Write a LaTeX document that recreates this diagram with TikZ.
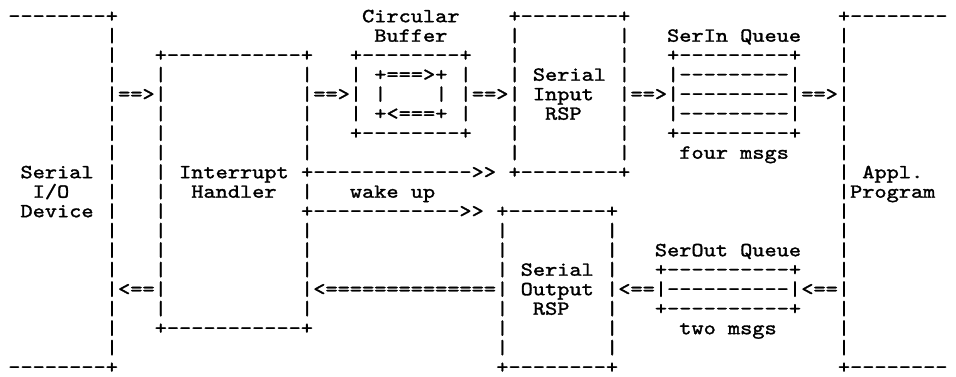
\documentclass[tikz,border=0pt]{standalone}
\usepackage{fontspec}
\setmonofont{Latin Modern Mono}[FakeStretch=1.16, FakeBold=1.5]

\begin{document}
\begin{tikzpicture}[x=6.1pt, y=-9.75pt,
    every node/.style={font=\ttfamily\fontsize{10}{9.75}\selectfont, inner sep=0pt, outer sep=0pt, anchor=base west}]
    \fill[white] (-0.18,-0.82) rectangle (78.18,18.51);
    \useasboundingbox (-0.18,-0.82) rectangle (78.18,18.51);
    \begin{scope}[shift={(-0.5,0.32)}]
        % Serial I/O device
        \node (devtop) at (1,0) {--------+};
        \foreach \r in {1,...,17} \node (devbar\r) at (9,\r) {|};
        \node (devbot) at (1,18) {--------+};
        \node (devA) at (2,8) {Serial};
        \node (devB) at (3,9) {I/O};
        \node (devC) at (2,10) {Device};

        % Interrupt handler
        \node (irqtop) at (13,2) {+-----------+};
        \foreach \r in {3,...,15} \node (irql\r) at (13,\r) {|};
        \foreach \r in {3,4,5,6,7,9,11,12,13,14,15} \node (irqr\r) at (25,\r) {|};
        \node (irqbot) at (13,16) {+-----------+};
        \node (irqA) at (15,8) {Interrupt};
        \node (irqB) at (16,9) {Handler};

        % Circular buffer
        \node (cbufA) at (30,0) {Circular};
        \node (cbufB) at (31,1) {Buffer};
        \node (cbuftop) at (29,2) {+--------+};
        \foreach \r in {3,4,5} {
            \node (cbufl\r) at (29,\r) {|};
            \node (cbufr\r) at (38,\r) {|};
        }
        \node (ringtop) at (31,3) {+===>+};
        \node (ringl) at (31,4) {|};
        \node (ringr) at (36,4) {|};
        \node (ringbot) at (31,5) {+<===+};
        \node (cbufbot) at (29,6) {+--------+};

        % Serial input RSP
        \node (sintop) at (42,0) {+--------+};
        \foreach \r in {1,...,7} {
            \node (sinl\r) at (42,\r) {|};
            \node (sinr\r) at (51,\r) {|};
        }
        \node (sinbot) at (42,8) {+--------+};
        \node (sinA) at (44,3) {Serial};
        \node (sinB) at (44,4) {Input};
        \node (sinC) at (45,5) {RSP};

        % SerIn queue
        \node (sqA) at (55,1) {SerIn Queue};
        \node (sqtop) at (55,2) {+---------+};
        \foreach \r in {3,4,5} \node (sqrow\r) at (55,\r) {|---------|};
        \node (sqbot) at (55,6) {+---------+};
        \node (sqnote) at (56,7) {four msgs};

        % Wake up signals
        \node (wakeA) at (25,8) {+------------->>};
        \node (wake) at (29,9) {wake up};
        \node (wakeB) at (25,10) {+------------>>};

        % Serial output RSP
        \node (souttop) at (41,10) {+--------+};
        \foreach \r in {11,...,17} {
            \node (soutl\r) at (41,\r) {|};
            \node (soutr\r) at (50,\r) {|};
        }
        \node (soutbot) at (41,18) {+--------+};
        \node (soutA) at (43,13) {Serial};
        \node (soutB) at (43,14) {Output};
        \node (soutC) at (44,15) {RSP};

        % SerOut queue
        \node (soqA) at (54,12) {SerOut Queue};
        \node (soqtop) at (54,13) {+----------+};
        \node (soqrow) at (54,14) {|----------|};
        \node (soqbot) at (54,15) {+----------+};
        \node (soqnote) at (56,16) {two msgs};

        % Application program
        \node (appltop) at (69,0) {+--------};
        \foreach \r in {1,...,17} \node (applbar\r) at (69,\r) {|};
        \node (applbot) at (69,18) {+--------};
        \node (applA) at (71,8) {Appl.};
        \node (applB) at (70,9) {Program};

        % Arrows
        \node (inA) at (10,4) {==>};
        \node (inB) at (26,4) {==>};
        \node (inC) at (39,4) {==>};
        \node (inD) at (52,4) {==>};
        \node (inE) at (66,4) {==>};
        \node (outA) at (66,14) {<==};
        \node (outB) at (51,14) {<==};
        \node (outC) at (26,14) {<==============};
        \node (outD) at (10,14) {<==};
    \end{scope}
\end{tikzpicture}
\end{document}
